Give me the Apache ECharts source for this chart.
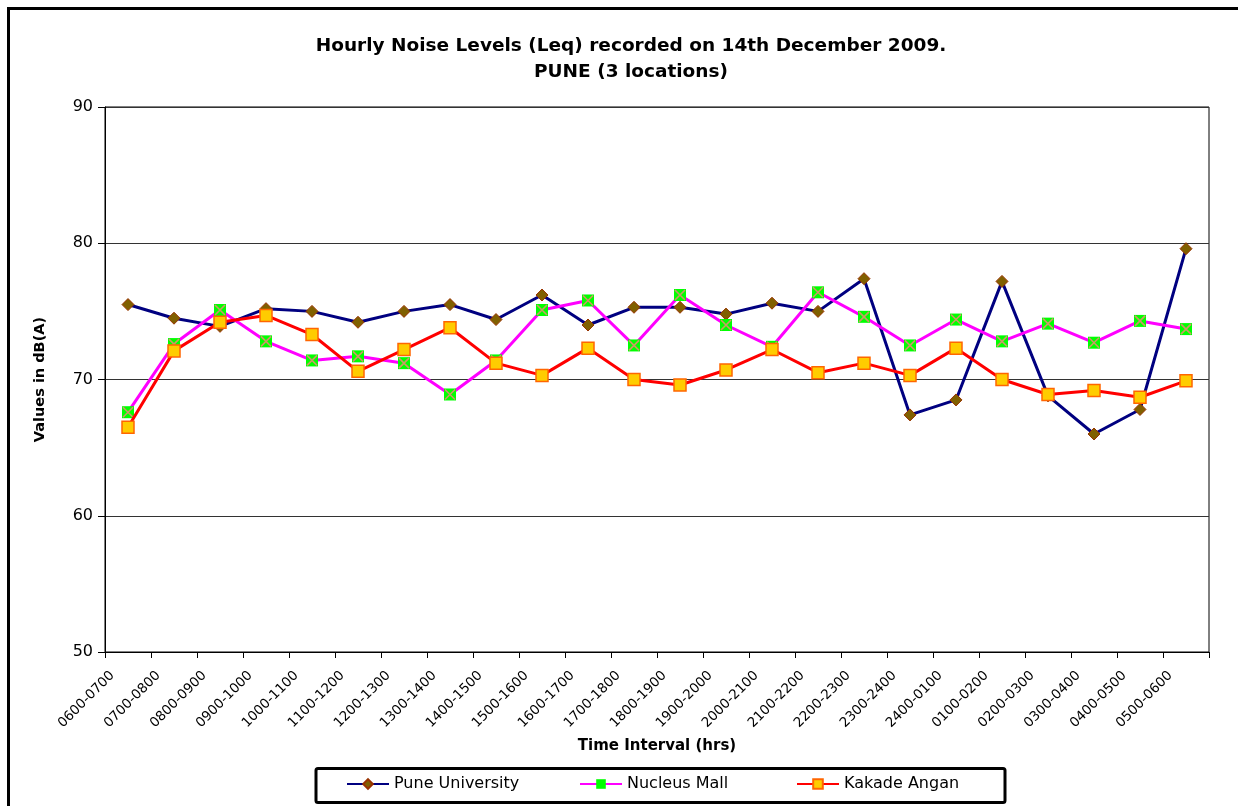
<!DOCTYPE html>
<html>
<head>
<meta charset="utf-8">
<script src="https://cdn.jsdelivr.net/npm/echarts@6/dist/echarts.min.js"></script>
<style>html,body{margin:0;padding:0;background:#fff;}#c{width:1238px;height:806px;}</style>
</head>
<body>
<div id="c"></div>
<script>
const categories = ['0600-0700','0700-0800','0800-0900','0900-1000','1000-1100','1100-1200','1200-1300','1300-1400','1400-1500','1500-1600','1600-1700','1700-1800','1800-1900','1900-2000','2000-2100','2100-2200','2200-2300','2300-2400','2400-0100','0100-0200','0200-0300','0300-0400','0400-0500','0500-0600'];
const puneUniversity = [75.5,74.5,73.9,75.2,75.0,74.2,75.0,75.5,74.4,76.2,74.0,75.3,75.3,74.8,75.6,75.0,77.4,67.4,68.5,77.2,68.8,66.0,67.8,79.6];
const nucleusMall = [67.6,72.6,75.1,72.8,71.4,71.7,71.2,68.9,71.4,75.1,75.8,72.5,76.2,74.0,72.4,76.4,74.6,72.5,74.4,72.8,74.1,72.7,74.3,73.7];
const kakadeAngan = [66.5,72.1,74.2,74.7,73.3,70.6,72.2,73.8,71.2,70.3,72.3,70.0,69.6,70.7,72.2,70.5,71.2,70.3,72.3,70.0,68.9,69.2,68.7,69.9];
const yTicks = {min:50, max:90, interval:10};

const FONT = 'DejaVu Sans';
const chart = echarts.init(document.getElementById('c'), null, {renderer:'canvas'});
const xPath = 'path://M0,0L10,10M10,0L0,10';
const legendCommon = {top: 776, padding: 0, itemWidth: 42, itemHeight: 12, itemGap: 4,
  textStyle: {fontFamily: FONT, fontSize: 16, color: '#000'}};
chart.setOption({
  animation: false,
  backgroundColor: '#fff',
  title: {
    text: 'Hourly Noise Levels (Leq) recorded on 14th December 2009.\nPUNE (3 locations)',
    left: 626, top: 28, textAlign: 'center',
    textStyle: {fontFamily: FONT, fontSize: 18.5, fontWeight: 'bold', color: '#000', lineHeight: 26}
  },
  legend: [
    Object.assign({left: 346, data: ['Pune University']}, legendCommon),
    Object.assign({left: 579, data: ['Nucleus Mall']}, legendCommon),
    Object.assign({left: 796, data: ['Kakade Angan']}, legendCommon)
  ],
  grid: {left: 105, top: 107, right: 29, bottom: 154, show: true, borderColor: '#000', borderWidth: 1},
  xAxis: {
    type: 'category', data: categories, boundaryGap: true,
    name: 'Time Interval (hrs)', nameLocation: 'middle', nameGap: 87,
    nameTextStyle: {fontFamily: FONT, fontSize: 15, fontWeight: 'bold', color: '#000'},
    axisLine: {lineStyle: {color: '#000', width: 1}},
    axisTick: {show: true, interval: 0, length: 6, lineStyle: {color: '#000'}},
    axisLabel: {interval: 0, rotate: 45, margin: 6, padding: [0, 22, 0, 0],
      fontFamily: FONT, fontSize: 13.5, color: '#000'},
    splitLine: {show: false}
  },
  yAxis: {
    type: 'value', min: yTicks.min, max: yTicks.max, interval: yTicks.interval,
    name: 'Values in dB(A)', nameLocation: 'middle', nameGap: 57, nameRotate: 90,
    nameTextStyle: {fontFamily: FONT, fontSize: 14.5, fontWeight: 'bold', color: '#000'},
    axisLine: {show: true, lineStyle: {color: '#000', width: 1}},
    axisTick: {show: true, length: 7, lineStyle: {color: '#000'}},
    axisLabel: {margin: 12, fontFamily: FONT, fontSize: 16, color: '#000'},
    splitLine: {show: true, lineStyle: {color: '#333', width: 1}}
  },
  series: [
    {name: 'Pune University', type: 'line', data: puneUniversity,
      symbol: 'diamond', symbolSize: 12,
      lineStyle: {color: '#000080', width: 3},
      itemStyle: {color: '#806000', borderColor: '#993300', borderWidth: 1}},
    {name: 'Nucleus Mall', type: 'line', data: nucleusMall,
      symbol: 'rect', symbolSize: 12,
      lineStyle: {color: '#FF00FF', width: 3},
      itemStyle: {color: '#00FF00', borderColor: '#00FF00', borderWidth: 0}},
    {name: 'NucleusX', type: 'scatter', data: nucleusMall, silent: true,
      symbol: xPath, symbolSize: 10, z: 3,
      itemStyle: {color: 'rgba(0,0,0,0)', borderColor: '#FF8080', borderWidth: 1.6}},
    {name: 'Kakade Angan', type: 'line', data: kakadeAngan,
      symbol: 'rect', symbolSize: 12, z: 4,
      lineStyle: {color: '#FF0000', width: 3},
      itemStyle: {color: '#FFCC00', borderColor: '#FF6600', borderWidth: 1.5}}
  ],
  graphic: [
    {type: 'rect', shape: {x: 8.5, y: 8.5, width: 1300, height: 900},
      style: {fill: null, stroke: '#000', lineWidth: 3}, silent: true},
    {type: 'rect', shape: {x: 316, y: 768.5, width: 689, height: 34, r: 2},
      style: {fill: null, stroke: '#000', lineWidth: 3}, silent: true}
  ]
});
</script>
</body>
</html>
